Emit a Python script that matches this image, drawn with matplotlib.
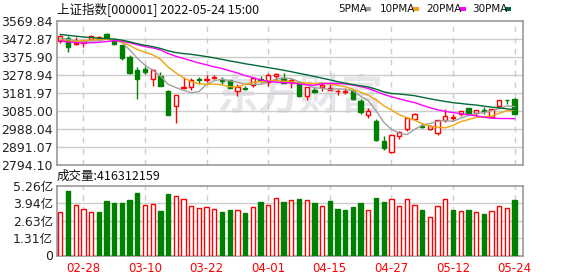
import matplotlib
matplotlib.use('Agg')
import matplotlib.pyplot as plt
import numpy as np
from matplotlib.patches import Rectangle

plt.rcParams['font.family'] = ['DejaVu Sans', 'Noto Sans CJK SC']

dates = ["02-23","02-24","02-25","02-28","03-01","03-02","03-03","03-04","03-07","03-08",
         "03-09","03-10","03-11","03-14","03-15","03-16","03-17","03-18","03-21","03-22",
         "03-23","03-24","03-25","03-28","03-29","03-30","03-31","04-01","04-06","04-07",
         "04-08","04-11","04-12","04-13","04-14","04-15","04-18","04-19","04-20","04-21",
         "04-22","04-25","04-26","04-27","04-28","04-29","05-05","05-06","05-09","05-10",
         "05-11","05-12","05-13","05-16","05-17","05-18","05-19","05-20","05-23","05-24"]

opens = [3463, 3479, 3446, 3450, 3476, 3478, 3502, 3466, 3440, 3377,
         3305, 3312, 3260, 3274, 3193, 3111, 3210, 3213, 3257, 3252,
         3262, 3258, 3251, 3193, 3212, 3224, 3258, 3245, 3273, 3264,
         3245, 3245, 3167, 3198, 3215, 3202, 3193, 3190, 3192, 3140,
         3064, 3032, 2927, 2868, 2950, 2987, 3044, 3008, 2991, 2969,
         3036, 3050, 3069, 3100, 3075, 3094, 3053, 3111, 3147.5, 3149]
highs = [3495, 3490, 3485, 3467, 3494, 3490, 3505, 3468, 3441, 3390,
         3323, 3328, 3312, 3299, 3197, 3171, 3269, 3262, 3269, 3278,
         3280, 3268, 3255, 3231, 3222, 3270, 3275, 3290, 3291, 3290,
         3256, 3250, 3215, 3215, 3238, 3233, 3205, 3210, 3197, 3152,
         3102, 3044, 2954, 2960, 2981, 3047, 3074, 3020, 3012, 3040,
         3098, 3068, 3088, 3103, 3094, 3107, 3099, 3147, 3148, 3156]
lows = [3455, 3404, 3440, 3430, 3466, 3470, 3478, 3443, 3362, 3287,
        3152, 3288, 3220, 3220, 3063, 3023, 3205, 3200, 3234, 3240,
        3258, 3233, 3210, 3165, 3200, 3215, 3240, 3222, 3250, 3236,
        3210, 3161, 3143, 3183, 3196, 3200, 3170, 3180, 3143, 3071,
        3048, 2927, 2877, 2863, 2937, 2978, 3040, 2994, 2984, 2958,
        3027, 3030, 3062, 3066, 3062, 3071, 3048, 3106, 3125, 3068]
closes = [3489.15, 3429.96, 3451.41, 3462.31, 3488.83, 3484.19, 3481.11, 3447.65, 3372.86, 3293.53,
          3256.39, 3296.09, 3309.75, 3223.53, 3063.97, 3170.71, 3215.04, 3251.07, 3253.69, 3259.86,
          3271.03, 3250.26, 3212.24, 3214.50, 3203.94, 3266.60, 3252.20, 3282.72, 3283.43, 3236.70,
          3251.85, 3167.13, 3213.33, 3186.82, 3225.64, 3211.24, 3195.52, 3194.03, 3151.05, 3079.81,
          3086.92, 2928.51, 2886.43, 2958.28, 2975.48, 3047.06, 3067.76, 3001.56, 3004.14, 3035.84,
          3058.70, 3054.99, 3084.28, 3073.75, 3093.70, 3085.98, 3096.96, 3146.57, 3146.86, 3070.93]
prev_close = 3457.15

ma5 = [3479, 3472, 3464, 3458, 3464, 3463, 3474, 3473, 3455, 3416,
       3370, 3333, 3306, 3276, 3230, 3213, 3197, 3185, 3191, 3230,
       3250, 3257, 3249, 3242, 3230, 3230, 3230, 3244, 3258, 3264,
       3261, 3244, 3230, 3211, 3209, 3201, 3206, 3203, 3196, 3166,
       3142, 3088, 3026, 2988, 2967, 2959, 2987, 3010, 3019, 3031,
       3034, 3031, 3048, 3062, 3073, 3078, 3087, 3099, 3114, 3110]
ma10 = [3468, 3463, 3462, 3465, 3469, 3471, 3472, 3468, 3456, 3440,
        3417, 3403, 3389, 3365, 3323, 3292, 3265, 3245, 3233, 3230,
        3232, 3227, 3217, 3216, 3230, 3240, 3244, 3247, 3250, 3247,
        3245, 3237, 3237, 3234, 3237, 3231, 3225, 3217, 3203, 3188,
        3171, 3147, 3115, 3092, 3067, 3050, 3038, 3018, 3004, 2999,
        2996, 3009, 3029, 3040, 3052, 3056, 3059, 3074, 3088, 3091]
ma20 = [3465, 3458, 3455, 3452, 3454, 3456, 3460, 3465, 3462, 3454,
        3443, 3433, 3426, 3415, 3396, 3381, 3369, 3357, 3345, 3335,
        3324, 3315, 3303, 3291, 3277, 3266, 3254, 3246, 3242, 3239,
        3238, 3232, 3227, 3225, 3233, 3236, 3234, 3232, 3226, 3218,
        3208, 3192, 3176, 3163, 3152, 3141, 3132, 3117, 3104, 3093,
        3084, 3078, 3072, 3066, 3060, 3053, 3048, 3046, 3046, 3045]
ma30 = [3498.8, 3493.6, 3489.3, 3484.9, 3482.3, 3478.5, 3476.1, 3473.6, 3468.0, 3458.8,
        3448.7, 3440.1, 3433.0, 3423.0, 3410.7, 3401.2, 3395.2, 3391.5, 3385.6, 3379.2,
        3372.3, 3364.4, 3356.0, 3348.9, 3340.8, 3334.2, 3327.0, 3320.1, 3313.2, 3305.8,
        3297.9, 3289.2, 3281.2, 3272.0, 3263.3, 3254.2, 3244.6, 3236.2, 3228.8, 3221.7,
        3216.0, 3203.8, 3189.7, 3180.8, 3177.9, 3173.7, 3168.8, 3160.5, 3152.2, 3144.7,
        3137.7, 3131.1, 3126.9, 3122.2, 3118.5, 3112.5, 3107.3, 3102.8, 3098.2, 3092.7]

volumes = [3.32, 4.88, 3.82, 3.50, 3.29, 3.29, 4.13, 3.97, 3.97, 4.20,
           4.73, 3.82, 3.90, 3.37, 4.65, 4.50, 4.27, 3.75, 3.62, 3.65,
           3.50, 3.27, 3.45, 3.42, 3.22, 3.65, 4.05, 3.80, 4.33, 4.05,
           4.18, 4.28, 4.18, 3.97, 3.72, 4.13, 3.52, 3.45, 3.67, 3.97,
           3.42, 4.35, 4.05, 4.25, 3.72, 4.25, 3.80, 3.45, 2.89, 3.72,
           4.25, 3.45, 3.34, 3.45, 3.27, 3.14, 3.34, 3.72, 3.57, 4.163]

price_ticks = [2794.10, 2891.07, 2988.04, 3085.00, 3181.97, 3278.94, 3375.90, 3472.87, 3569.84]
vol_ticks = [0, 1.31, 2.63, 3.94, 5.26]
vol_tick_labels = ["0", "1.31亿", "2.63亿", "3.94亿", "5.26亿"]
date_ticks = ["02-28", "03-10", "03-22", "04-01", "04-15", "04-27", "05-12", "05-24"]
ma_labels = ["5PMA", "10PMA", "20PMA", "30PMA"]

RED = '#ff0000'; GREEN = '#008000'; GRID = '#cccccc'; SPINE = '#999999'
MA_COLORS = ['#a0a0a0', '#f0a30a', '#ff00ff', '#006a36']
W = 578; H = 276
fig = plt.figure(figsize=(W/100, H/100), dpi=100)
ax = fig.add_axes([57/W, 1-165.3/H, (523-57)/W, (165.3-21.2)/H])
axv = fig.add_axes([57/W, 1-255.5/H, (523-57)/W, (255.5-186)/H])

x = np.arange(len(dates))
xl = (-0.43, 60.09)
bw = 0.55
for i in x:
    o, h, l, c = opens[i], highs[i], lows[i], closes[i]
    up = c >= o
    col = RED if up else GREEN
    ax.vlines(i, l, h, color=col, lw=1, zorder=3)
    bot = min(o, c); ht = max(abs(c - o), 0.5)
    ax.add_patch(Rectangle((i - bw/2, bot), bw, ht, facecolor='white' if up else GREEN,
                           edgecolor=col, lw=1, zorder=4))
for series, col in zip([ma5, ma10, ma20, ma30], MA_COLORS):
    ax.plot(x, series, color=col, lw=1, zorder=5)

prev = [prev_close] + closes[:-1]
for i in x:
    up = closes[i] >= prev[i]
    if up:
        axv.add_patch(Rectangle((i - bw/2, 0), bw, volumes[i], facecolor='white', edgecolor=RED, lw=1, zorder=3))
    else:
        axv.add_patch(Rectangle((i - bw/2, 0), bw, volumes[i], facecolor=GREEN, edgecolor=GREEN, lw=1, zorder=3))

tick_pos = [dates.index(d) for d in date_ticks]
for a in (ax, axv):
    a.set_xlim(*xl)
    for s in a.spines.values():
        s.set_color(SPINE); s.set_linewidth(1.2)
    a.tick_params(length=0, labelsize=9, colors='#222222')
    for p in tick_pos:
        a.axvline(p, color=GRID, lw=1, ls=(0, (4, 4)), zorder=1)

ax.set_ylim(price_ticks[0], price_ticks[-1])
ax.set_yticks(price_ticks)
ax.set_yticklabels([f"{v:.2f}" for v in price_ticks])
for v in price_ticks[1:-1]:
    ax.axhline(v, color=GRID, lw=1, zorder=1)
ax.set_xticks([])
ax.tick_params(axis='y', pad=3)

axv.set_ylim(0, 5.26)
axv.set_yticks(vol_ticks)
axv.set_yticklabels(vol_tick_labels)
for v in vol_ticks[1:-1]:
    axv.axhline(v, color=GRID, lw=1, zorder=1)
axv.set_xticks(tick_pos)
axv.set_xticklabels(date_ticks, color=RED, fontsize=8.5)
axv.tick_params(axis='x', pad=5, colors=RED)
axv.tick_params(axis='y', pad=3)

ax.text(300/W, 1-96/H, "东方财富", transform=fig.transFigure, fontsize=30, fontweight='bold',
        style='italic', color='#e6e6ea', ha='center', va='center', zorder=0,
        family=['Noto Sans CJK SC', 'DejaVu Sans'])

fig.text(57/W, 1-10/H, "上证指数[000001] 2022-05-24 15:00", fontsize=9, va='center', ha='left',
         family=['Noto Sans CJK SC', 'DejaVu Sans'], color='#111111')
fig.text(57/W, 1-176/H, "成交量:416312159", fontsize=9, va='center', ha='left',
         family=['Noto Sans CJK SC', 'DejaVu Sans'], color='#111111')

text_px = [338, 380, 426, 472]
sq_px = [365, 413, 460, 505]
for lab, col, tx, sx in zip(ma_labels, MA_COLORS, text_px, sq_px):
    fig.text(tx/W, 1-9/H, lab, fontsize=7.5, va='center', ha='left', color='#111111')
    fig.patches.append(Rectangle((sx/W, 1-11/H), 6/W, 4/H, transform=fig.transFigure,
                                 facecolor=col, edgecolor='none'))

fig.savefig('out.png', dpi=100)
